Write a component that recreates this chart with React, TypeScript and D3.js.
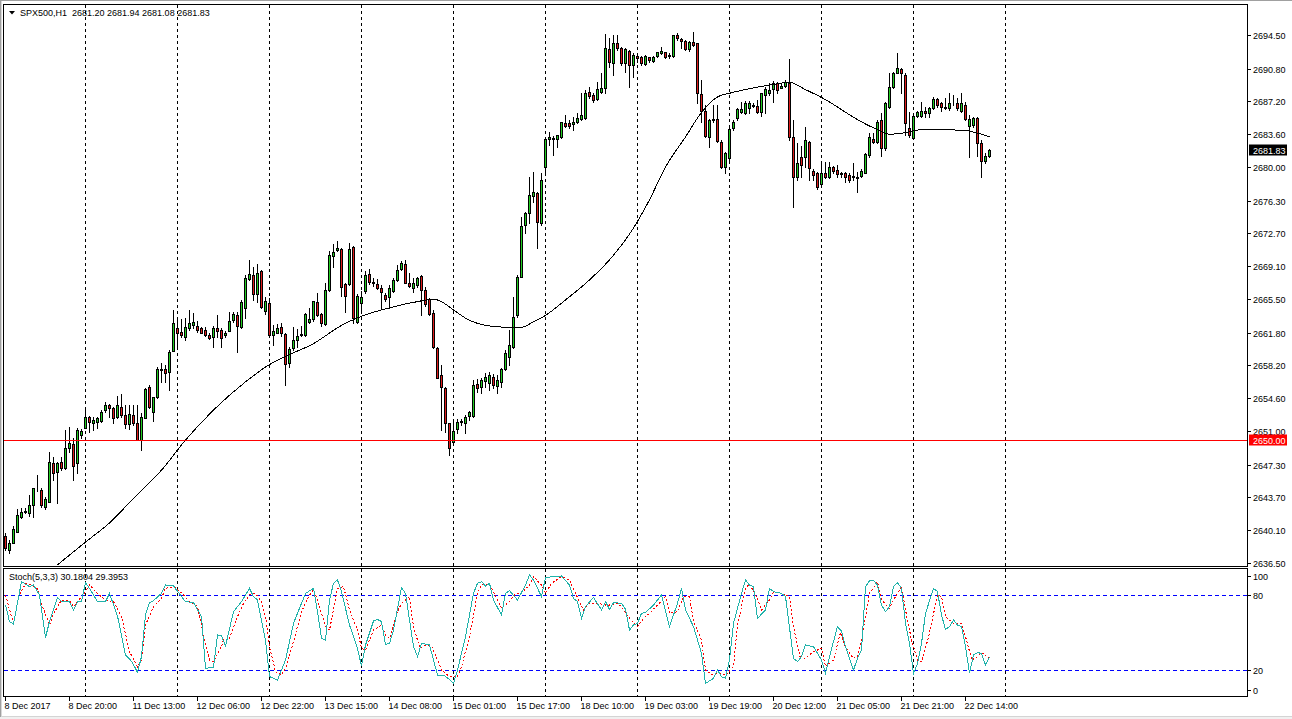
import { useEffect, useRef } from 'react';
import * as d3 from 'd3';

// SPX500 H1 candles, one value per bar (bar 0 = 8 Dec 2017 00:00)
const openPrices = [
  2639.47, 2637.93, 2638.74, 2639.95, 2641.60, 2642.11, 2641.96, 2642.84, 2644.67, 2644.53,
  2642.70, 2643.17, 2647.46, 2646.54, 2647.57, 2646.91, 2649.11, 2649.58, 2647.46, 2650.57,
  2651.30, 2652.51, 2651.85, 2652.03, 2652.14, 2653.31, 2653.83, 2653.50, 2652.51, 2653.68,
  2652.76, 2651.74, 2652.73, 2651.85, 2650.02, 2652.47, 2655.80, 2653.06, 2654.71, 2657.71,
  2657.85, 2657.45, 2659.83, 2662.28, 2661.92, 2661.37, 2662.28, 2662.65, 2662.54, 2662.28,
  2662.10, 2661.52, 2661.37, 2662.28, 2662.10, 2661.52, 2661.99, 2663.20, 2663.75, 2662.39,
  2664.48, 2667.67, 2668.14, 2666.02, 2668.58, 2664.23, 2665.03, 2661.55, 2661.81, 2662.39,
  2661.63, 2658.44, 2660.09, 2661.00, 2661.60, 2661.52, 2662.98, 2663.28, 2665.18, 2663.83,
  2662.73, 2666.46, 2670.23, 2670.86, 2671.04, 2667.12, 2667.12, 2671.22, 2662.98, 2665.11,
  2666.39, 2668.22, 2667.38, 2667.12, 2666.68, 2665.91, 2665.69, 2666.42, 2667.59, 2668.76,
  2669.35, 2667.30, 2666.75, 2667.04, 2668.03, 2666.49, 2665.47, 2663.93, 2660.08, 2657.15,
  2655.69, 2651.84, 2649.83, 2651.22, 2651.95, 2651.92, 2652.65, 2652.69, 2656.16, 2655.87,
  2656.53, 2656.24, 2656.97, 2655.98, 2656.42, 2657.81, 2659.17, 2660.19, 2663.74, 2667.96,
  2673.63, 2674.91, 2676.85, 2677.11, 2673.89, 2679.97, 2683.04, 2683.19, 2683.04, 2683.26,
  2684.80, 2684.80, 2684.73, 2684.98, 2685.27, 2685.35, 2688.28, 2687.91, 2687.44, 2688.28,
  2688.64, 2692.93, 2691.39, 2693.59, 2693.04, 2691.39, 2692.75, 2691.21, 2692.23, 2692.05,
  2691.28, 2692.05, 2691.68, 2692.23, 2692.49, 2692.60, 2692.19, 2692.19, 2694.50, 2694.03,
  2693.88, 2692.93, 2693.77, 2693.59, 2688.03, 2686.20, 2683.27, 2685.17, 2685.25, 2682.79,
  2679.97, 2680.96, 2684.26, 2685.35, 2686.09, 2685.98, 2686.45, 2686.82, 2686.71, 2686.09,
  2687.92, 2688.10, 2688.54, 2689.20, 2688.72, 2688.94, 2689.27, 2683.34, 2678.87, 2681.07,
  2681.14, 2682.79, 2679.61, 2679.31, 2678.14, 2679.39, 2678.87, 2679.97, 2679.68, 2679.31,
  2679.39, 2679.13, 2678.87, 2678.95, 2679.02, 2679.39, 2681.33, 2683.05, 2682.79, 2685.17,
  2682.06, 2686.64, 2688.83, 2690.37, 2690.74, 2690.11, 2684.26, 2683.16, 2685.61, 2685.61,
  2686.16, 2685.98, 2686.45, 2687.44, 2687.08, 2686.64, 2686.45, 2687.15, 2687.00, 2686.20,
  2686.82, 2684.51, 2684.62, 2685.35, 2682.68, 2680.70, 2681.20,
];
const highPrices = [
  2639.77, 2639.03, 2640.57, 2642.40, 2642.51, 2642.51, 2643.94, 2644.71, 2646.14, 2644.71,
  2643.79, 2648.74, 2648.19, 2647.57, 2648.19, 2651.12, 2651.48, 2650.20, 2651.30, 2651.19,
  2653.68, 2652.65, 2652.58, 2652.58, 2653.31, 2654.23, 2653.97, 2653.68, 2654.85, 2655.07,
  2653.86, 2653.86, 2653.86, 2653.86, 2652.95, 2655.69, 2656.06, 2654.78, 2658.07, 2658.44,
  2658.26, 2659.91, 2664.30, 2663.38, 2663.27, 2663.38, 2664.30, 2663.93, 2663.13, 2662.47,
  2662.47, 2661.74, 2662.54, 2663.75, 2662.28, 2661.96, 2664.12, 2664.12, 2664.12, 2665.40,
  2668.14, 2669.79, 2669.06, 2669.35, 2668.69, 2665.76, 2665.58, 2662.65, 2662.76, 2662.83,
  2661.74, 2660.27, 2662.39, 2662.17, 2662.50, 2664.01, 2664.56, 2665.29, 2666.20, 2664.01,
  2667.30, 2670.78, 2671.51, 2671.88, 2671.15, 2667.30, 2671.70, 2671.33, 2666.02, 2666.39,
  2668.59, 2668.77, 2667.85, 2667.67, 2667.01, 2666.20, 2667.04, 2667.77, 2669.24, 2669.71,
  2669.79, 2668.32, 2667.77, 2667.96, 2668.14, 2666.86, 2665.58, 2664.29, 2660.27, 2658.25,
  2655.87, 2651.84, 2652.21, 2652.28, 2652.32, 2652.76, 2653.23, 2656.60, 2656.68, 2656.79,
  2657.34, 2657.52, 2657.26, 2657.15, 2657.89, 2659.90, 2662.10, 2665.76, 2668.14, 2674.50,
  2675.10, 2678.87, 2679.49, 2677.29, 2679.31, 2683.15, 2683.88, 2683.41, 2683.52, 2684.98,
  2685.71, 2685.17, 2685.53, 2685.90, 2688.10, 2688.46, 2688.83, 2688.10, 2689.38, 2690.29,
  2694.61, 2694.14, 2694.50, 2694.50, 2693.22, 2693.04, 2692.85, 2692.49, 2692.49, 2692.19,
  2692.31, 2692.12, 2692.19, 2692.67, 2693.15, 2692.67, 2692.56, 2694.50, 2694.69, 2694.14,
  2693.95, 2693.88, 2694.80, 2693.66, 2689.57, 2686.82, 2685.25, 2686.82, 2686.82, 2682.97,
  2681.69, 2684.26, 2685.17, 2686.45, 2687.19, 2687.30, 2687.26, 2687.00, 2687.37, 2688.17,
  2688.83, 2689.27, 2689.49, 2689.38, 2689.20, 2689.57, 2691.84, 2685.17, 2682.61, 2682.32,
  2684.44, 2682.90, 2679.75, 2679.50, 2680.41, 2680.59, 2680.59, 2680.12, 2680.23, 2679.50,
  2679.50, 2679.31, 2680.41, 2679.50, 2679.75, 2681.51, 2683.71, 2683.71, 2685.17, 2685.90,
  2687.19, 2690.30, 2690.48, 2692.50, 2690.85, 2690.30, 2686.09, 2685.72, 2686.20, 2687.19,
  2686.64, 2686.64, 2687.74, 2687.55, 2687.19, 2687.55, 2688.10, 2687.92, 2687.55, 2688.10,
  2687.19, 2685.72, 2685.54, 2685.54, 2682.97, 2681.51, 2681.94,
];
const lowPrices = [
  2637.93, 2637.64, 2638.67, 2639.95, 2641.41, 2641.96, 2641.71, 2641.60, 2644.45, 2642.70,
  2642.40, 2643.17, 2645.62, 2643.14, 2646.72, 2646.83, 2648.74, 2645.62, 2646.36, 2650.20,
  2651.30, 2650.93, 2651.12, 2651.30, 2652.03, 2653.13, 2652.58, 2651.92, 2652.40, 2652.58,
  2651.37, 2651.19, 2651.67, 2650.02, 2648.92, 2652.40, 2653.50, 2652.14, 2654.60, 2656.43,
  2656.43, 2655.51, 2659.83, 2660.09, 2661.30, 2661.00, 2662.10, 2662.28, 2661.92, 2661.74,
  2661.44, 2661.08, 2660.20, 2661.37, 2660.27, 2661.37, 2661.99, 2663.02, 2659.72, 2662.28,
  2663.38, 2667.59, 2665.40, 2665.21, 2664.48, 2663.86, 2661.30, 2660.45, 2661.74, 2661.44,
  2656.06, 2658.00, 2659.91, 2660.27, 2661.40, 2661.45, 2662.84, 2663.09, 2663.64, 2662.54,
  2662.62, 2666.39, 2669.06, 2670.78, 2665.84, 2664.08, 2667.01, 2662.91, 2662.84, 2664.01,
  2666.20, 2667.19, 2666.94, 2666.57, 2664.45, 2665.29, 2664.48, 2666.31, 2667.52, 2668.69,
  2667.22, 2666.86, 2666.31, 2666.86, 2663.76, 2664.73, 2663.76, 2660.08, 2656.79, 2651.11,
  2650.93, 2648.37, 2649.65, 2650.75, 2651.66, 2650.75, 2652.21, 2652.58, 2655.32, 2655.14,
  2655.87, 2655.51, 2655.69, 2655.21, 2655.87, 2657.70, 2658.25, 2660.08, 2663.56, 2667.88,
  2672.72, 2673.81, 2676.19, 2671.07, 2673.63, 2679.12, 2682.42, 2681.32, 2682.24, 2683.15,
  2684.43, 2684.25, 2684.07, 2684.80, 2685.17, 2685.24, 2687.54, 2687.18, 2687.36, 2688.17,
  2688.10, 2691.02, 2690.11, 2692.85, 2691.21, 2690.47, 2688.83, 2689.92, 2691.57, 2691.21,
  2691.21, 2691.57, 2691.57, 2692.05, 2692.41, 2691.94, 2691.94, 2692.12, 2693.95, 2693.04,
  2692.85, 2692.78, 2693.29, 2687.00, 2684.99, 2683.34, 2682.24, 2684.99, 2682.79, 2679.86,
  2679.39, 2680.78, 2684.07, 2685.17, 2685.90, 2685.83, 2685.90, 2686.64, 2685.98, 2685.61,
  2685.90, 2687.92, 2687.19, 2688.10, 2688.65, 2688.83, 2682.97, 2675.65, 2678.58, 2678.95,
  2680.05, 2678.58, 2678.58, 2677.56, 2678.03, 2678.76, 2678.76, 2679.31, 2678.95, 2678.95,
  2678.40, 2678.40, 2678.58, 2677.30, 2678.95, 2679.31, 2681.14, 2682.68, 2682.61, 2681.22,
  2681.88, 2686.45, 2688.65, 2690.30, 2688.10, 2683.52, 2683.34, 2683.05, 2685.46, 2685.46,
  2685.54, 2685.46, 2686.34, 2686.64, 2686.20, 2686.34, 2686.27, 2686.82, 2686.27, 2686.09,
  2685.17, 2681.14, 2684.44, 2681.22, 2678.95, 2680.41, 2681.08,
];
const closePrices = [
  2638.12, 2638.74, 2640.21, 2641.74, 2642.15, 2642.22, 2642.84, 2644.71, 2644.60, 2642.88,
  2643.50, 2647.57, 2646.43, 2647.46, 2646.91, 2649.11, 2649.65, 2647.16, 2651.12, 2651.04,
  2652.58, 2651.96, 2652.22, 2652.40, 2653.13, 2653.86, 2653.53, 2652.47, 2653.86, 2652.76,
  2651.74, 2652.84, 2651.92, 2650.02, 2652.51, 2655.58, 2653.68, 2654.71, 2657.85, 2657.78,
  2657.41, 2659.72, 2662.91, 2661.74, 2661.55, 2662.39, 2662.91, 2662.98, 2662.10, 2661.81,
  2661.55, 2661.22, 2662.28, 2661.99, 2661.19, 2661.74, 2663.09, 2663.86, 2662.54, 2665.21,
  2667.78, 2668.25, 2666.02, 2668.40, 2664.59, 2665.32, 2661.55, 2661.99, 2662.32, 2661.81,
  2658.33, 2660.05, 2661.00, 2661.48, 2661.70, 2663.90, 2663.28, 2665.29, 2663.72, 2662.84,
  2666.46, 2670.31, 2670.67, 2671.08, 2666.86, 2665.84, 2671.04, 2663.46, 2665.84, 2665.73,
  2668.11, 2667.38, 2667.23, 2666.76, 2666.28, 2665.55, 2666.67, 2667.59, 2668.69, 2669.42,
  2667.30, 2666.97, 2667.22, 2667.77, 2666.49, 2664.95, 2663.85, 2660.27, 2656.86, 2655.80,
  2651.84, 2649.17, 2651.04, 2652.03, 2652.10, 2652.58, 2653.05, 2656.05, 2655.76, 2656.60,
  2656.90, 2657.15, 2656.05, 2656.60, 2657.77, 2659.53, 2660.45, 2663.56, 2667.96, 2673.50,
  2674.99, 2676.93, 2677.22, 2674.00, 2678.57, 2683.04, 2683.26, 2683.08, 2683.52, 2684.91,
  2684.51, 2684.54, 2684.98, 2685.35, 2685.71, 2688.10, 2687.80, 2687.36, 2688.53, 2688.64,
  2693.04, 2691.57, 2693.59, 2693.04, 2691.39, 2692.93, 2691.21, 2692.31, 2692.01, 2691.46,
  2692.19, 2691.76, 2692.12, 2692.60, 2692.75, 2692.05, 2692.27, 2694.50, 2694.14, 2693.88,
  2692.93, 2693.77, 2693.40, 2688.17, 2686.20, 2683.45, 2685.17, 2685.25, 2682.90, 2679.97,
  2681.51, 2684.15, 2684.99, 2686.34, 2686.34, 2687.08, 2687.00, 2686.71, 2686.09, 2688.10,
  2688.54, 2688.47, 2689.27, 2688.47, 2688.91, 2689.38, 2683.34, 2678.87, 2680.41, 2680.23,
  2682.97, 2679.86, 2679.13, 2677.85, 2679.31, 2678.95, 2680.05, 2679.61, 2679.24, 2679.20,
  2678.87, 2678.58, 2679.02, 2678.76, 2679.61, 2681.44, 2683.34, 2682.79, 2684.99, 2682.06,
  2687.00, 2688.83, 2690.30, 2690.85, 2690.30, 2684.88, 2683.52, 2685.61, 2686.09, 2686.20,
  2685.98, 2686.45, 2687.44, 2686.82, 2686.64, 2686.45, 2687.08, 2687.19, 2686.45, 2687.00,
  2685.25, 2685.25, 2685.35, 2682.61, 2680.70, 2681.22, 2681.83,
];

// moving average: [bar, price]
const maPoints: [number, number][] = [
  [13, 2636.3], [20, 2638.8], [26, 2640.9], [32, 2643.6], [39, 2646.7], [45, 2650.0],
  [52, 2653.3], [60, 2656.4], [66, 2658.3], [70, 2659.2], [77, 2660.6], [84, 2662.6],
  [89, 2663.6], [94, 2664.3], [104, 2665.3], [107, 2665.5], [109, 2665.2], [112, 2664.3],
  [115, 2663.4], [120, 2662.6], [125, 2662.4], [129, 2662.4], [132, 2663.0], [135, 2663.7],
  [140, 2665.4], [145, 2667.2], [151, 2669.8], [157, 2673.3], [161, 2676.4], [165, 2680.0],
  [170, 2683.3], [174, 2686.0], [178, 2687.7], [181, 2688.1], [186, 2688.6], [191, 2689.0],
  [196, 2689.3], [200, 2688.5], [205, 2687.4], [209, 2686.3], [213, 2685.2], [218, 2684.1],
  [221, 2683.6], [224, 2683.7], [229, 2684.1], [234, 2684.1], [240, 2684.0], [244, 2683.6],
  [246, 2683.3],
];

// Stoch(5,3,3) main line (%K) and signal (%D): [bar, value]
const stochK: [number, number][] = [
  [0, 72], [1, 58.7], [2, 56.8], [4, 90.7], [6, 86.7], [7, 88], [8.5, 80], [10, 46], [11, 58.7],
  [13, 78], [14, 74.7], [16, 74.7], [17, 68], [18, 74.7], [19, 75.2], [20, 89.9], [21, 85.3],
  [23, 74.7], [25, 74.7], [26, 81.3], [28, 63.2], [30, 32], [31.6, 26.7], [33, 18.1], [34, 30.7],
  [35, 64], [36, 73.9], [37, 75.5], [39, 81.3], [40, 88], [42, 87.2], [44, 78.7], [45, 74.7],
  [47, 73.9], [49, 62.7], [50, 21.3], [52, 22.1], [53, 48], [54, 47.2], [55, 39.2], [57, 66.7],
  [59, 74.7], [61, 85.3], [62, 78.7], [63, 76], [64, 60], [65, 44], [66, 14.7], [68, 12], [69, 20],
  [70, 28], [72, 57.3], [74, 73.3], [75, 81.3], [77, 85.3], [78, 66.7], [79, 45.3], [80, 44],
  [81, 76], [82, 89.3], [83, 92], [84, 82.7], [86, 56], [87, 46.7], [88, 37.3], [89, 23.2],
  [90, 40], [92, 59.2], [93, 60.5], [94, 58.7], [95, 40.5], [96, 41.3], [97, 52], [99, 86],
  [100, 81.3], [102, 38.7], [103, 30.7], [104, 41.3], [106, 40], [107, 28], [108, 16], [109.5, 16],
  [111, 12.5], [112, 9.3], [113, 20], [115, 46.7], [117, 81.3], [118, 89.3], [119, 90.7], [120, 87.2],
  [121, 89.3], [122, 76], [124, 64], [125, 81.3], [126, 83.5], [128, 76], [130, 88], [131, 96],
  [132, 92], [134, 78.7], [135, 94.1], [139, 95.2], [141, 88], [142, 77.3], [143, 74.7], [144, 61.3],
  [145, 70.7], [147, 78.1], [149, 68], [150, 74.7], [151, 68.5], [152, 73.9], [154, 73.3], [155, 68.5],
  [156, 52], [157, 56], [158, 57.3], [159, 65.3], [160, 65.9], [162, 72], [164, 80], [166, 54.7],
  [168, 73.3], [169, 85.3], [170, 68], [172, 54.7], [174, 33.3], [175, 9.3], [177, 13.3], [178, 20],
  [179, 14.7], [180, 13.3], [181, 28], [182, 57.3], [184, 81.3], [185, 92], [186, 88], [187, 86.7],
  [188, 61.3], [190, 68], [191, 85.3], [192, 82.7], [194, 81.3], [195, 78.7], [197, 29.3], [198, 26.7],
  [199, 30.7], [200, 40], [202, 38.7], [204, 28], [205, 17.3], [206, 30.7], [208, 54.7], [209, 51],
  [210, 38.7], [212, 20], [213, 29.3], [214, 36], [215, 86.7], [216, 91.5], [217, 91.5], [218, 88],
  [219, 72], [220, 66.7], [221, 70.7], [222, 86.7], [223, 89.9], [224, 85.3], [225, 57.3], [226, 41.3],
  [227, 17.3], [228, 25.3], [229, 41.3], [230, 65.3], [232, 85.3], [233, 82.7], [234, 64], [235, 52.5],
  [236, 54.7], [237, 60], [238, 56], [239, 54.7], [240, 38.7], [241, 17.3], [242, 32], [243, 33.9],
  [244, 33.3], [245, 24], [246, 30.18],
];
const stochD: [number, number][] = [
  [0, 80], [2, 57], [3.3, 78.7], [5, 89], [6, 88.5], [8, 85], [9, 73], [11, 56], [12, 65], [14, 76],
  [16, 76], [17, 70.7], [18, 74.7], [20, 82.7], [21, 88], [23, 81.3], [25, 76], [27, 74.7], [29, 62.7],
  [31, 34.7], [33, 22.7], [34, 28], [35, 56], [37, 70.7], [39, 77.3], [40, 85.3], [42, 86.7], [43.7, 82.7],
  [46, 74.7], [48, 70.7], [49.5, 48], [51, 28], [52, 26.7], [54, 38.7], [54.5, 44], [56, 45.3], [58, 62.7],
  [59.5, 73.3], [61, 80], [62.5, 81.3], [64, 74.7], [65, 62.7], [66, 38.7], [67.5, 18.7], [69, 16],
  [70, 21.3], [72, 42.7], [74, 66.7], [76, 80], [77, 84], [78, 76], [80, 54.7], [81, 52], [82, 68],
  [83, 85.3], [84.5, 86.7], [86, 68], [88, 52], [89, 37.3], [90, 36], [92, 52], [94, 56], [95, 48],
  [96, 45.3], [98, 66.7], [99, 73.3], [101, 78.7], [102, 54.7], [103.6, 37.3], [105, 40], [106.6, 38.7],
  [108, 28], [109, 20], [111, 14.7], [113, 14.7], [114, 22.7], [116, 46.7], [118, 81.3], [119, 88],
  [121, 88.8], [122, 82.7], [124, 69.3], [126, 74.7], [127.5, 81.3], [129, 81.3], [131, 88], [132, 94.7],
  [134, 88], [135, 81.3], [136.5, 89.3], [139, 94.7], [141, 92], [142.5, 81.3], [144.5, 68], [146, 73.3],
  [148, 73.3], [150, 72], [151, 72], [153, 73.3], [154, 70.7], [156, 61.3], [158, 54.7], [159.5, 61.3],
  [161, 65.3], [163, 72], [165, 78.7], [166, 65.3], [168, 66.7], [169.5, 78.7], [171, 78.7], [172, 58.7],
  [174, 44], [175, 20], [176.6, 16], [178, 17.3], [180, 16], [182, 22.7], [183, 56], [185, 85.3],
  [186, 88.8], [188, 77.3], [189, 68], [191, 76], [192, 82.7], [194, 81.3], [196, 78.7], [197, 54.7],
  [198.6, 30.7], [200, 29.3], [202, 34.7], [204, 37.3], [205, 22.7], [207, 28], [208.7, 50], [210, 38],
  [212, 29.3], [213, 30.7], [214, 44], [216, 81.3], [218, 90.7], [219, 76], [221, 69.3], [222, 76],
  [224, 86.7], [225, 68], [226.5, 44], [228, 28], [229, 26.7], [230.8, 46.7], [233, 80], [234, 78.7],
  [235, 62.7], [237, 57.3], [239, 57.3], [240, 46.7], [241.6, 28], [243, 30.7], [244, 33.9], [246, 29.4],
];

const priceTicks = [
  '2694.50', '2690.80', '2687.20', '2683.60', '2680.00', '2676.30', '2672.70', '2669.10', '2665.50',
  '2661.80', '2658.20', '2654.60', '2651.00', '2647.30', '2643.70', '2640.10', '2636.50',
];
const stochTicks = [100, 80, 20, 0];
const stochLevels = [80, 20];
const timeLabels = [
  '8 Dec 2017', '8 Dec 20:00', '11 Dec 13:00', '12 Dec 06:00', '12 Dec 22:00', '13 Dec 15:00',
  '14 Dec 08:00', '15 Dec 01:00', '15 Dec 17:00', '18 Dec 10:00', '19 Dec 03:00', '19 Dec 19:00',
  '20 Dec 12:00', '21 Dec 05:00', '21 Dec 21:00', '22 Dec 14:00',
];
const symbolName = 'SPX500,H1';
const levelPrice = 2650;
const stochLast = ['30.1804', '29.3953'];

const W = 1292;
const H = 719;
const FONT = "'Liberation Sans', Arial, sans-serif";

export default function App() {
  const svgRef = useRef<SVGSVGElement>(null);

  useEffect(() => {
    if (!svgRef.current) return;
    const svg = d3.select(svgRef.current);
    svg.selectAll('*').remove();

    const left = 3.5;
    const right = 1247.5;
    const mainTop = 4.5;
    const mainBottom = 566.5;
    const subTop = 568.5;
    const subBottom = 696.5;

    // one bar = 4px
    const x = d3.scaleLinear().domain([0, 1]).range([5, 9]);
    const y = d3.scaleLinear().domain([2636.5, 2694.5]).range([563, 35]);
    const ys = d3.scaleLinear().domain([0, 100]).range([695, 570]);

    svg.append('rect').attr('width', W).attr('height', H).attr('fill', '#fff');
    // window edges
    svg.append('rect').attr('x', 0).attr('y', 717).attr('width', W).attr('height', 2).attr('fill', '#f0f0f0');
    svg.append('line').attr('x1', 0).attr('x2', W).attr('y1', 716.5).attr('y2', 716.5).attr('stroke', '#d4d4d4');
    svg.append('line').attr('x1', 0).attr('x2', W).attr('y1', 0.5).attr('y2', 0.5).attr('stroke', '#a0a0a0');
    svg.append('line').attr('x1', 0.5).attr('x2', 0.5).attr('y1', 0).attr('y2', 717).attr('stroke', '#a0a0a0');
    svg.append('line').attr('x1', 1.5).attr('x2', 1.5).attr('y1', 1).attr('y2', 717).attr('stroke', '#d8d8d8');

    const defs = svg.append('defs');
    defs.append('clipPath').attr('id', 'clip-main')
      .append('rect').attr('x', 4).attr('y', 5).attr('width', 1243).attr('height', 561);
    defs.append('clipPath').attr('id', 'clip-sub')
      .append('rect').attr('x', 4).attr('y', 569).attr('width', 1243).attr('height', 127);

    // day separators
    const grid = svg.append('g').attr('shape-rendering', 'crispEdges');
    d3.range(20, 251, 23).forEach(b => {
      grid.append('line')
        .attr('x1', x(b) + 0.5).attr('x2', x(b) + 0.5)
        .attr('y1', 5).attr('y2', 696)
        .attr('stroke', '#000').attr('stroke-dasharray', '3,3');
    });

    // stoch levels
    stochLevels.forEach(v => {
      const yy = Math.round(ys(v)) + 0.5;
      grid.append('line')
        .attr('x1', 4).attr('x2', 1247).attr('y1', yy).attr('y2', yy)
        .attr('stroke', '#0000ff').attr('stroke-dasharray', '4,3');
    });

    // candles
    const candles = svg.append('g').attr('clip-path', 'url(#clip-main)').attr('shape-rendering', 'crispEdges');
    openPrices.forEach((o, i) => {
      const c = closePrices[i];
      const cx = x(i) + 0.5;
      candles.append('line')
        .attr('x1', cx).attr('x2', cx)
        .attr('y1', Math.round(y(highPrices[i])))
        .attr('y2', Math.round(y(lowPrices[i])) + 1)
        .attr('stroke', '#000');
      const top = Math.round(y(Math.max(o, c)));
      const bot = Math.round(y(Math.min(o, c)));
      candles.append('rect')
        .attr('x', cx - 1).attr('y', top + 0.5)
        .attr('width', 2).attr('height', bot - top)
        .attr('fill', c >= o ? '#22cc22' : '#dd1c1c')
        .attr('stroke', '#000');
    });

    // moving average
    const maLine = d3.line<[number, number]>()
      .x(d => x(d[0]) + 0.5)
      .y(d => y(d[1]))
      .curve(d3.curveMonotoneX);
    svg.append('path')
      .datum(maPoints)
      .attr('clip-path', 'url(#clip-main)')
      .attr('d', maLine)
      .attr('fill', 'none')
      .attr('stroke', '#000')
      .attr('stroke-width', 1)
      .attr('shape-rendering', 'crispEdges');

    // horizontal level
    const ly = Math.round(y(levelPrice)) + 0.5;
    svg.append('line')
      .attr('x1', 4).attr('x2', 1247).attr('y1', ly).attr('y2', ly)
      .attr('stroke', '#ff0000').attr('shape-rendering', 'crispEdges');

    // stochastic
    const stLine = d3.line<[number, number]>()
      .x(d => x(d[0]) + 0.5)
      .y(d => ys(d[1]));
    const sub = svg.append('g').attr('clip-path', 'url(#clip-sub)').attr('shape-rendering', 'crispEdges');
    sub.append('path').datum(stochD).attr('d', stLine)
      .attr('fill', 'none').attr('stroke', '#ff0000').attr('stroke-dasharray', '2,2');
    sub.append('path').datum(stochK).attr('d', stLine)
      .attr('fill', 'none').attr('stroke', '#20b2aa');

    // frames
    const frames = svg.append('g').attr('shape-rendering', 'crispEdges').attr('fill', 'none').attr('stroke', '#000');
    frames.append('rect').attr('x', left).attr('y', mainTop).attr('width', right - left).attr('height', mainBottom - mainTop);
    frames.append('rect').attr('x', left).attr('y', subTop).attr('width', right - left).attr('height', subBottom - subTop);

    const txt = (g: d3.Selection<any, any, any, any>, tx: number, ty: number, s: string, color = '#000') =>
      g.append('text')
        .attr('x', tx).attr('y', ty)
        .attr('font-family', FONT).attr('font-size', 9)
        .attr('fill', color)
        .style('white-space', 'pre')
        .text(s);

    // price axis
    const axis = svg.append('g');
    priceTicks.forEach(t => {
      const yy = Math.round(y(+t));
      axis.append('line').attr('x1', 1248).attr('x2', 1251).attr('y1', yy + 0.5).attr('y2', yy + 0.5)
        .attr('stroke', '#000').attr('shape-rendering', 'crispEdges');
      txt(axis, 1253, yy + 3.5, t);
    });
    // level tag
    axis.append('rect').attr('x', 1249).attr('y', ly - 6).attr('width', 38).attr('height', 11).attr('fill', '#ff0000');
    txt(axis, 1253, ly + 3, levelPrice.toFixed(2), '#fff');
    // last price tag
    const lastClose = closePrices[closePrices.length - 1];
    const lp = Math.round(y(lastClose)) + 0.5;
    axis.append('rect').attr('x', 1249).attr('y', lp - 6).attr('width', 38).attr('height', 11).attr('fill', '#000');
    txt(axis, 1253, lp + 3, lastClose.toFixed(2), '#fff');

    // stoch axis
    stochTicks.forEach(v => {
      const yy = Math.min(Math.max(Math.round(ys(v)), 576), 690);
      axis.append('line').attr('x1', 1248).attr('x2', 1251).attr('y1', yy + 0.5).attr('y2', yy + 0.5)
        .attr('stroke', '#000').attr('shape-rendering', 'crispEdges');
      txt(axis, 1253, yy + 3.5, String(v));
    });

    // time axis
    timeLabels.forEach((label, k) => {
      const tx = x(k * 16) + 0.5;
      axis.append('line').attr('x1', tx).attr('x2', tx).attr('y1', 697).attr('y2', 701)
        .attr('stroke', '#000').attr('shape-rendering', 'crispEdges');
      txt(axis, tx - 1, 709, label);
    });

    // headers
    const n = openPrices.length - 1;
    svg.append('path').attr('d', 'M9,11L15,11L12,14.5Z').attr('fill', '#000');
    txt(svg, 20, 16, `${symbolName}  ${openPrices[n].toFixed(2)} ${highPrices[n].toFixed(2)} ${lowPrices[n].toFixed(2)} ${closePrices[n].toFixed(2)}`);
    txt(svg, 9, 580, `Stoch(5,3,3) ${stochLast[0]} ${stochLast[1]}`);
  }, []);

  return (
    <svg
      ref={svgRef}
      width={W}
      height={H}
      style={{ position: 'absolute', left: 0, top: 0, display: 'block' }}
    />
  );
}
